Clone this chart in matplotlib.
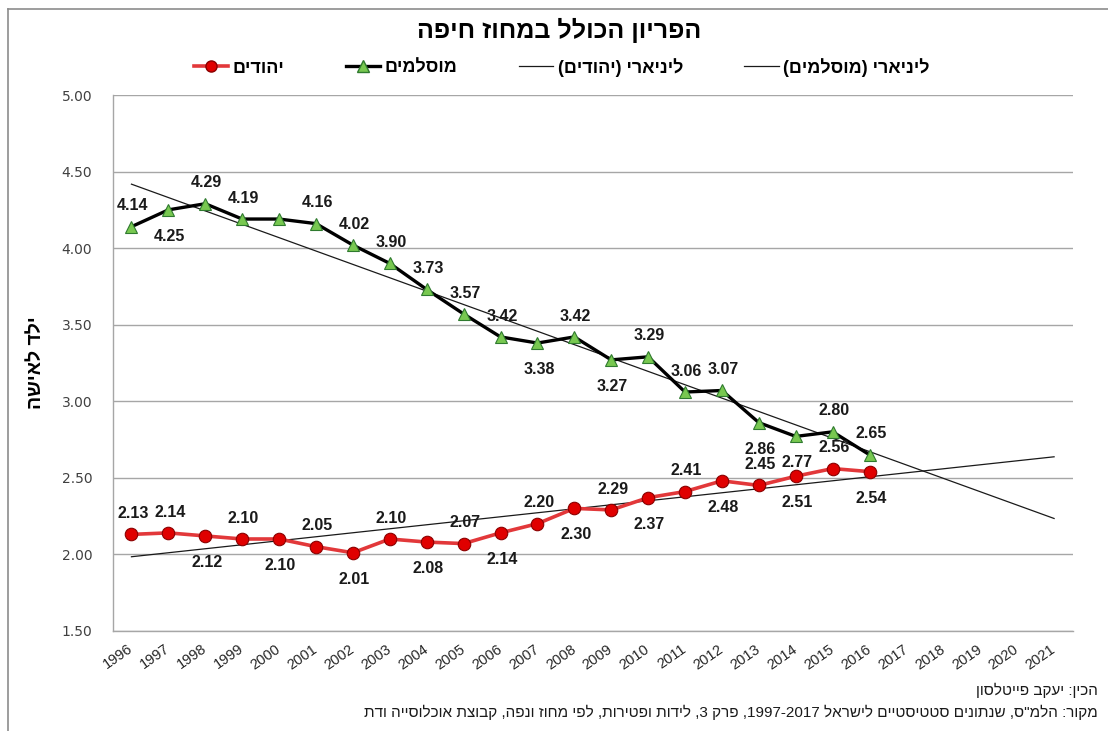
import re
import numpy as np
import matplotlib
matplotlib.use('Agg')
import matplotlib.pyplot as plt
import matplotlib.transforms as mtransforms
from matplotlib.lines import Line2D

# גופן עם עברית
plt.rcParams['font.family'] = ['Liberation Sans', 'DejaVu Sans']

years = [str(y) for y in range(1996, 2022)]
data_years = list(range(1996, 2017))
muslims = [4.14, 4.25, 4.29, 4.19, 4.19, 4.16, 4.02, 3.90, 3.73, 3.57, 3.42,
           3.38, 3.42, 3.27, 3.29, 3.06, 3.07, 2.86, 2.77, 2.80, 2.65]
jews = [2.13, 2.14, 2.12, 2.10, 2.10, 2.05, 2.01, 2.10, 2.08, 2.07, 2.14,
        2.20, 2.30, 2.29, 2.37, 2.41, 2.48, 2.45, 2.51, 2.56, 2.54]

# מיקום תוויות: a = מעל, b = מתחת, None = ללא
muslim_pos = ['a', 'b', 'a', 'a', None, 'a', 'a', 'a', 'a', 'a', 'a',
              'b', 'a', 'b', 'a', 'a', 'a', 'b', 'b', 'a', 'a']
jew_pos = ['a', 'a', 'b', 'a', 'b', 'a', 'b', 'a', 'b', 'a', 'b',
           'a', 'b', 'a', 'b', 'a', 'b', 'a', 'b', 'a', 'b']

title = 'הפריון הכולל במחוז חיפה'
ylabel = 'ילד לאישה'
lbl_jews = 'יהודים'
lbl_muslims = 'מוסלמים'
lbl_lin_jews = 'ליניארי (יהודים)'
lbl_lin_muslims = 'ליניארי (מוסלמים)'
credit = 'הכין: יעקב פייטלסון'
source = 'מקור: הלמ"ס, שנתונים סטטיסטיים לישראל 1997-2017, פרק 3, לידות ופטירות, לפי מחוז ונפה, קבוצת אוכלוסייה ודת'


def rtl(s):
    """סדר ויזואלי לטקסט עברי (matplotlib לא תומך ב-bidi)"""
    r = s[::-1]
    r = re.sub(r'[0-9][0-9.\-]*[0-9]|[0-9]', lambda m: m.group(0)[::-1], r)
    return r.translate(str.maketrans('()', ')('))


fig = plt.figure(figsize=(11.08, 7.31), dpi=100)
ax = fig.add_axes([0.102, 0.137, 0.866, 0.733])

x_all = np.arange(len(years))
x = np.arange(len(data_years))

# קווי מגמה ליניאריים
for vals in (muslims, jews):
    k, b = np.polyfit(x, vals, 1)
    ax.plot(x_all, k * x_all + b, color='#1a1a1a', lw=0.9, zorder=2)

ax.plot(x, muslims, color='black', lw=2.4, marker='^', markersize=9,
        markerfacecolor='#78C850', markeredgecolor='#2F7A2F', markeredgewidth=0.8, zorder=4)
ax.plot(x, jews, color='#E2383A', lw=2.6, marker='o', markersize=9,
        markerfacecolor='#E00000', markeredgecolor='#8A0000', markeredgewidth=0.8, zorder=4)

offsets = {'a': 15, 'b': -19}
for vals, pos in ((muslims, muslim_pos), (jews, jew_pos)):
    for i, (v, p) in enumerate(zip(vals, pos)):
        if p is None:
            continue
        ax.annotate(f'{v:.2f}', (x[i], v), xytext=(1, offsets[p]), textcoords='offset points',
                    ha='center', va='center', fontsize=11.5, fontweight='bold',
                    color='#1a1a1a', zorder=5)

ax.set_xlim(-0.5, len(years) - 0.5)
ax.set_ylim(1.5, 5.0)
ax.set_yticks(np.arange(1.5, 5.01, 0.5))
ax.set_yticklabels([f'{t:.2f}' for t in np.arange(1.5, 5.01, 0.5)],
                   fontfamily='DejaVu Sans', fontsize=10, color='#404040')
ax.set_xticks(x_all)
ax.set_xticklabels(years, rotation=35, ha='right', va='center', rotation_mode='anchor',
                   fontsize=10.5, color='#262626')
shift = mtransforms.ScaledTranslation(6 / 100, 0, fig.dpi_scale_trans)
for t in ax.get_xticklabels():
    t.set_transform(t.get_transform() + shift)
ax.tick_params(axis='y', length=0, pad=15)
ax.tick_params(axis='x', length=0, pad=12)

ax.grid(axis='y', color='#A6A6A6', lw=1)
ax.set_axisbelow(True)
for s in ('top', 'right'):
    ax.spines[s].set_visible(False)
for s in ('left', 'bottom'):
    ax.spines[s].set_color('#A6A6A6')
    ax.spines[s].set_linewidth(1)

ax.set_ylabel(rtl(ylabel), fontsize=14, fontweight='bold', labelpad=12)

fig.text(0.505, 0.958, rtl(title), ha='center', va='center', fontsize=18, fontweight='bold')

handles = [
    Line2D([], [], color='#E2383A', lw=2.6, marker='o', markersize=8,
           markerfacecolor='#E00000', markeredgecolor='#8A0000'),
    Line2D([], [], color='black', lw=2.4, marker='^', markersize=8,
           markerfacecolor='#78C850', markeredgecolor='#2F7A2F'),
    Line2D([], [], color='#1a1a1a', lw=0.9),
    Line2D([], [], color='#1a1a1a', lw=0.9),
]
labels = [rtl(lbl_jews), rtl(lbl_muslims), rtl(lbl_lin_jews), rtl(lbl_lin_muslims)]
fig.legend(handles, labels, loc='center', bbox_to_anchor=(0.507, 0.908), ncol=4,
           frameon=False, handlelength=1.9, handletextpad=0.25, columnspacing=3.4,
           numpoints=1, prop={'weight': 'bold', 'size': 13})

fig.text(0.991, 1 - 690 / 731, rtl(credit), ha='right', va='center', fontsize=11, color='#1a1a1a')
fig.text(0.991, 1 - 712 / 731, rtl(source), ha='right', va='center', fontsize=11, color='#1a1a1a')

# מסגרת אזור התרשים
fig.add_artist(Line2D([8 / 1108, 1], [1 - 9 / 731, 1 - 9 / 731], transform=fig.transFigure,
                      color='#8C8C8C', lw=1.2))
fig.add_artist(Line2D([8 / 1108, 8 / 1108], [0, 1 - 9 / 731], transform=fig.transFigure,
                      color='#8C8C8C', lw=1.2))

plt.savefig('out.png', dpi=100)
